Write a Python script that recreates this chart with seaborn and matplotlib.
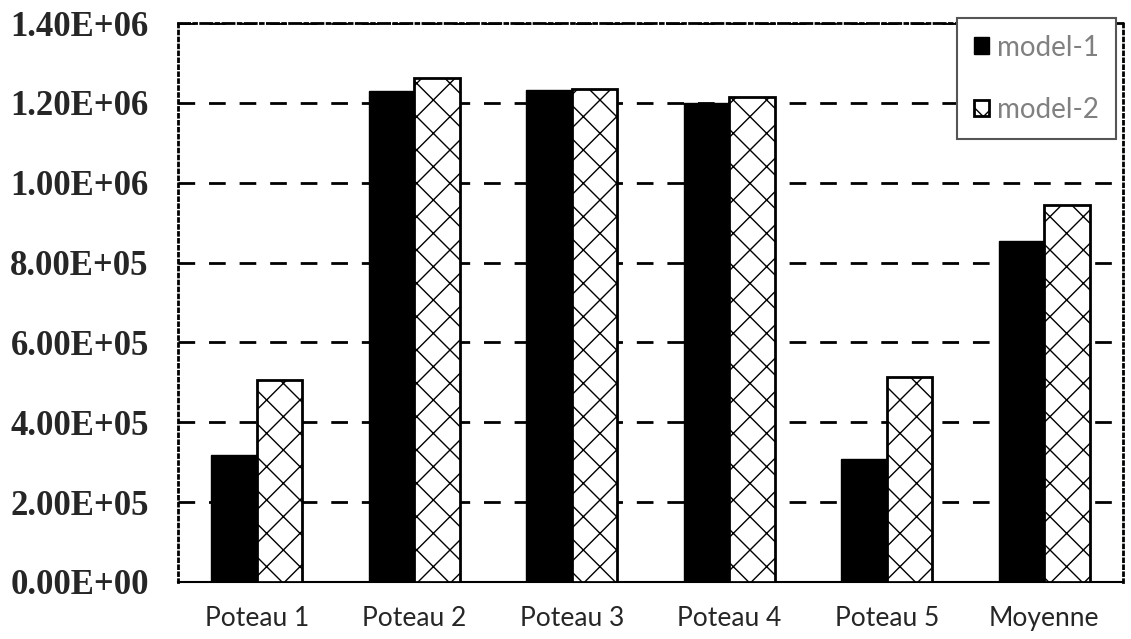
import seaborn as sns
import pandas as pd
import matplotlib.pyplot as plt
from matplotlib.ticker import FuncFormatter, MultipleLocator

# values
categories = ["Poteau 1", "Poteau 2", "Poteau 3", "Poteau 4", "Poteau 5", "Moyenne"]
model_1 = [3.18e5, 1.229e6, 1.232e6, 1.200e6, 3.08e5, 8.54e5]
model_2 = [5.06e5, 1.262e6, 1.234e6, 1.214e6, 5.13e5, 9.44e5]
series_names = ["model-1", "model-2"]

df = pd.DataFrame({
    "cat": categories * 2,
    "value": model_1 + model_2,
    "model": [series_names[0]] * len(categories) + [series_names[1]] * len(categories),
})

sns.set_style("white")
plt.rcParams["hatch.linewidth"] = 1.0

fig = plt.figure(figsize=(11.31, 6.39), dpi=100)
ax = fig.add_axes([178 / 1131, 57 / 639, 945 / 1131, 559 / 639])

sns.barplot(data=df, x="cat", y="value", hue="model", palette=["black", "white"],
            saturation=1, width=0.58, legend=False, ax=ax, zorder=3)

# white series -> hatched with black outline
for p in ax.containers[1].patches:
    p.set_hatch("x")
    p.set_edgecolor("black")
    p.set_linewidth(2)
for p in ax.containers[0].patches:
    p.set_edgecolor("black")
    p.set_linewidth(1)

ax.set_ylim(0, 1.4e6)
ax.set_xlim(-0.5, 5.5)
ax.yaxis.set_major_locator(MultipleLocator(2e5))
ax.yaxis.set_major_formatter(FuncFormatter(lambda v, pos: f"{v:.2E}"))
ax.grid(axis="y", color="black", linestyle=(0, (6, 5)), linewidth=2, zorder=0)
ax.set_axisbelow(True)
ax.set_xlabel("")
ax.set_ylabel("")

for lab in ax.get_yticklabels():
    lab.set_fontfamily("Liberation Serif")
    lab.set_fontweight("bold")
    lab.set_fontsize(25)
for lab in ax.get_xticklabels():
    lab.set_fontfamily("Lato")
    lab.set_fontsize(19)
ax.tick_params(axis="y", length=0, pad=21)
ax.tick_params(axis="x", length=0, pad=17)

# frame: dotted sides, dash-dot top, solid bottom
ax.spines["left"].set_linestyle((0, (1, 1.5)))
ax.spines["right"].set_linestyle((0, (1, 1.5)))
ax.spines["top"].set_linestyle((0, (4, 1.5, 1, 1.5)))
for s in ["left", "right", "top"]:
    ax.spines[s].set_linewidth(2)
    ax.spines[s].set_color("black")
ax.spines["bottom"].set_linewidth(1.5)
ax.spines["bottom"].set_color("black")

leg = fig.legend(handles=[ax.containers[0].patches[0], ax.containers[1].patches[0]],
                 labels=series_names,
                 loc="upper left", bbox_to_anchor=(957 / 1131, 1 - 18 / 639),
                 bbox_transform=fig.transFigure, borderaxespad=0,
                 prop={"family": "Lato", "size": 20}, labelcolor="#808080",
                 handlelength=0.55, handleheight=0.55, handletextpad=0.3,
                 labelspacing=1.3, borderpad=0.6, frameon=True, fancybox=False,
                 framealpha=1)
leg.get_frame().set_edgecolor("#555555")
leg.get_frame().set_linewidth(1.5)

plt.savefig("out.png", dpi=100)
